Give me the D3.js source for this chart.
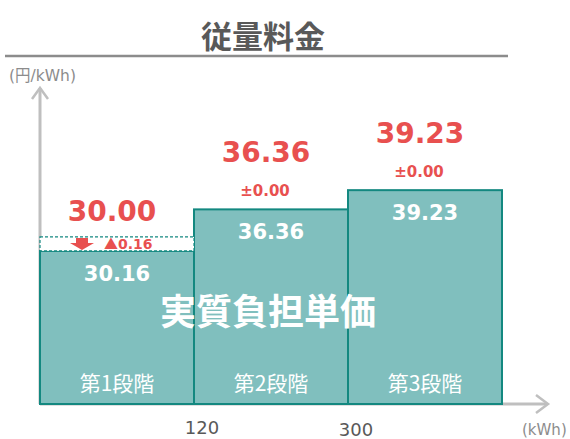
<!DOCTYPE html>
<html>
<head>
<meta charset="utf-8">
<script src="https://cdn.jsdelivr.net/npm/d3@7"></script>
<style>
  body { margin: 0; background: #fff; }
  svg text { font-family: "DejaVu Sans", "Noto Sans CJK JP", sans-serif; }
  svg text.cjk, svg tspan.cjk { font-family: "Noto Sans CJK JP", sans-serif; }
</style>
</head>
<body>
<div id="chart"></div>
<script>
// chart data
const stages = ["第1段階", "第2段階", "第3段階"];
const unitPrice = [30.16, 36.36, 39.23];   // 実質負担単価
const newPrice = [30.00, 36.36, 39.23];    // red figures above
const diffSign = ["▲", "±", "±"];
const diffValue = ["0.16", "0.00", "0.00"];
const boundaryTicks = ["120", "300"];

const W = 570, H = 439;
const RED = "#E8504F";
const FILL = "#80BFBE";
const STROKE = "#138880";
const GRAY = "#BFBFBF";

const svg = d3.select("#chart").append("svg")
  .attr("width", W).attr("height", H);

// title
svg.append("text").attr("class", "cjk")
  .attr("x", 263).attr("y", 48)
  .attr("text-anchor", "middle")
  .attr("font-size", 31).attr("font-weight", "bold")
  .attr("fill", "#595959")
  .text("従量料金");
svg.append("line")
  .attr("x1", 5).attr("x2", 508).attr("y1", 56).attr("y2", 56)
  .attr("stroke", "#8c8c8c").attr("stroke-width", 2.5);

const x0 = 40, baseY = 404;
const x = d3.scaleBand().domain(stages).range([x0, 502]).padding(0);
// schematic axis: not drawn from zero
const y = d3.scaleLinear().domain([7.3, 40]).range([baseY, 185]);

// axes arrows
svg.append("line").attr("x1", x0).attr("x2", x0).attr("y1", baseY).attr("y2", 88)
  .attr("stroke", GRAY).attr("stroke-width", 3);
svg.append("path").attr("d", `M${x0 - 8},${99} L${x0},${88} L${x0 + 8},${99}`)
  .attr("fill", "none").attr("stroke", GRAY).attr("stroke-width", 2.5);
svg.append("line").attr("x1", x0).attr("x2", 547).attr("y1", baseY).attr("y2", baseY)
  .attr("stroke", GRAY).attr("stroke-width", 3);
svg.append("path").attr("d", `M${536},${baseY - 9} L${548},${baseY} L${536},${baseY + 9}`)
  .attr("fill", "none").attr("stroke", GRAY).attr("stroke-width", 2.5);

svg.append("text").attr("x", 9).attr("y", 81)
  .attr("font-size", 15.5).attr("fill", "#8c8c8c").text("(円/kWh)");
svg.append("text").attr("x", 522).attr("y", 435)
  .attr("font-size", 15).attr("fill", "#8c8c8c").text("(kWh)");

// bars
svg.selectAll("rect.bar").data(stages).enter().append("rect")
  .attr("class", "bar")
  .attr("x", d => x(d))
  .attr("y", (d, i) => y(unitPrice[i]))
  .attr("width", x.bandwidth())
  .attr("height", (d, i) => baseY - y(unitPrice[i]))
  .attr("fill", FILL)
  .attr("stroke", STROKE).attr("stroke-width", 2);

// dashed reduction box on stage 1
const b1 = y(unitPrice[0]);
svg.append("rect")
  .attr("x", x(stages[0])).attr("y", b1 - 14)
  .attr("width", x.bandwidth()).attr("height", 14)
  .attr("fill", "#fff").attr("stroke", STROKE)
  .attr("stroke-width", 1.2).attr("stroke-dasharray", "3,2");
const ax = x(stages[0]) + 42;
svg.append("path")
  .attr("d", `M${ax - 6},${b1 - 13} L${ax + 6},${b1 - 13} L${ax + 6},${b1 - 8} L${ax + 12},${b1 - 8} L${ax},${b1 - 1} L${ax - 12},${b1 - 8} L${ax - 6},${b1 - 8} Z`)
  .attr("fill", RED);

// value labels inside bars
svg.selectAll("text.val").data(stages).enter().append("text")
  .attr("x", d => x(d) + x.bandwidth() / 2)
  .attr("y", (d, i) => y(unitPrice[i]) + 30)
  .attr("text-anchor", "middle")
  .attr("font-size", 21).attr("font-weight", "bold")
  .attr("fill", "#fff")
  .text((d, i) => unitPrice[i].toFixed(2));

// stage names
svg.selectAll("text.stage").data(stages).enter().append("text")
  .attr("class", "cjk")
  .attr("x", d => x(d) + x.bandwidth() / 2)
  .attr("y", 391)
  .attr("text-anchor", "middle")
  .attr("font-size", 21)
  .attr("fill", "#fff")
  .text(d => d);

// diff labels
const diff = svg.selectAll("text.diff").data(stages).enter().append("text")
  .attr("x", (d, i) => i === 0 ? x(d) + 64 : x(d) + x.bandwidth() / 2 - 6)
  .attr("y", (d, i) => i === 0 ? b1 - 1.5 : y(unitPrice[i]) - 13)
  .attr("font-size", (d, i) => i === 0 ? 14 : 15).attr("font-weight", "bold")
  .attr("fill", RED)
  .attr("text-anchor", (d, i) => i === 0 ? "start" : "middle");
diff.append("tspan")
  .attr("class", (d, i) => i === 0 ? "cjk" : null)
  .text((d, i) => diffSign[i]);
diff.append("tspan").text((d, i) => diffValue[i]);

// red new price
svg.selectAll("text.new").data(stages).enter().append("text")
  .attr("x", d => x(d) + x.bandwidth() / 2 - 5)
  .attr("y", (d, i) => i === 0 ? b1 - 30 : y(unitPrice[i]) - 47)
  .attr("text-anchor", "middle")
  .attr("font-size", 28).attr("font-weight", "bold")
  .attr("fill", RED)
  .text((d, i) => newPrice[i].toFixed(2));

// big caption
svg.append("text").attr("class", "cjk")
  .attr("x", 268).attr("y", 325)
  .attr("text-anchor", "middle")
  .attr("font-size", 36).attr("font-weight", "bold")
  .attr("fill", "#fff")
  .text("実質負担単価");

// boundary ticks
svg.selectAll("text.tick").data(boundaryTicks).enter().append("text")
  .attr("x", (d, i) => x(stages[i + 1]) + 8)
  .attr("y", (d, i) => 434 + i * 2)
  .attr("text-anchor", "middle")
  .attr("font-size", 18)
  .attr("fill", "#595959")
  .text(d => d);
</script>
</body>
</html>
